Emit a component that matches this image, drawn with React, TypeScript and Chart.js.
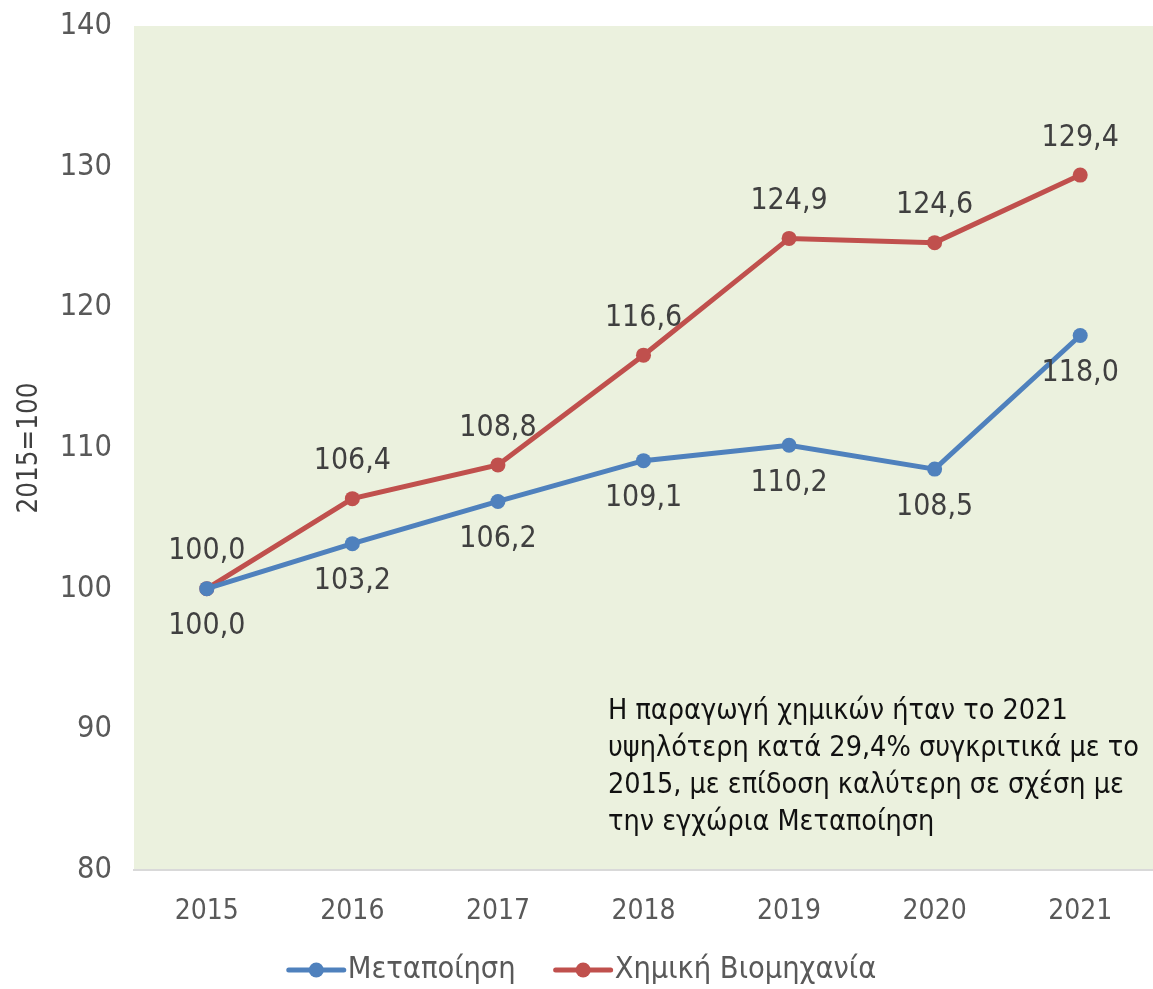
import React, { useEffect, useRef } from 'react';
import { Chart, registerables } from 'chart.js';

Chart.register(...registerables);

const categories = ['2015', '2016', '2017', '2018', '2019', '2020', '2021'];
const manufacturing = [100.0, 103.2, 106.2, 109.1, 110.2, 108.5, 118.0];
const chemicals = [100.0, 106.4, 108.8, 116.6, 124.9, 124.6, 129.4];
const seriesNames = ['Μεταποίηση', 'Χημική Βιομηχανία'];
const yAxisTitle = '2015=100';
const noteLines = [
  'Η παραγωγή χημικών ήταν το 2021',
  'υψηλότερη κατά 29,4% συγκριτικά με το',
  '2015, με επίδοση καλύτερη σε σχέση με',
  'την εγχώρια Μεταποίηση',
];

const FONT = '"DejaVu Sans Condensed", "DejaVu Sans", sans-serif';
const BLUE = '#4F81BD';
const RED = '#C0504D';

const fmt = (v: number) => v.toFixed(1).replace('.', ',');

const bgPlugin = {
  id: 'plotBg',
  beforeDraw(chart: any) {
    const { ctx, chartArea } = chart;
    ctx.save();
    ctx.fillStyle = '#EBF1DE';
    ctx.fillRect(chartArea.left, chartArea.top, chartArea.right - chartArea.left, chartArea.bottom - chartArea.top);
    ctx.restore();
  },
};

const labelPlugin = {
  id: 'valueLabels',
  afterDatasetsDraw(chart: any) {
    const { ctx } = chart;
    ctx.save();
    ctx.font = `30px ${FONT}`;
    ctx.fillStyle = '#404040';
    ctx.textAlign = 'center';
    ctx.textBaseline = 'middle';
    chart.data.datasets.forEach((ds: any, di: number) => {
      const meta = chart.getDatasetMeta(di);
      meta.data.forEach((pt: any, i: number) => {
        const off = di === 0 ? 38 : -37;
        ctx.fillText(fmt(ds.data[i]), pt.x, pt.y + off);
      });
    });
    ctx.restore();
  },
};

const notePlugin = {
  id: 'note',
  afterDraw(chart: any) {
    const { ctx, chartArea } = chart;
    ctx.save();
    ctx.font = `28.5px ${FONT}`;
    ctx.fillStyle = '#111111';
    ctx.textAlign = 'left';
    ctx.textBaseline = 'middle';
    const x = chartArea.left + 474;
    const y0 = chartArea.top + 686;
    noteLines.forEach((line, i) => ctx.fillText(line, x, y0 + i * 37));
    ctx.restore();
  },
};

const legendPlugin = {
  id: 'customLegend',
  afterDraw(chart: any) {
    const { ctx, width } = chart;
    ctx.save();
    ctx.font = `30.5px ${FONT}`;
    ctx.textBaseline = 'middle';
    ctx.textAlign = 'left';
    const lineLen = 55;
    const gap = 4;
    const spacing = 40;
    const items = chart.data.datasets.map((ds: any) => ({
      label: ds.label,
      color: ds.borderColor,
      w: ctx.measureText(ds.label).width,
    }));
    const total = items.reduce((s: number, it: any) => s + lineLen + gap + it.w, 0) + spacing * (items.length - 1);
    let x = (width - total) / 2 + 6;
    const y = 970;
    items.forEach((it: any) => {
      ctx.strokeStyle = it.color;
      ctx.lineWidth = 5;
      ctx.lineCap = 'round';
      ctx.beginPath();
      ctx.moveTo(x, y);
      ctx.lineTo(x + lineLen, y);
      ctx.stroke();
      ctx.fillStyle = it.color;
      ctx.beginPath();
      ctx.arc(x + lineLen / 2, y, 7.5, 0, Math.PI * 2);
      ctx.fill();
      ctx.fillStyle = '#595959';
      ctx.fillText(it.label, x + lineLen + gap, y);
      x += lineLen + gap + it.w + spacing;
    });
    ctx.restore();
  },
};

export default function App() {
  const ref = useRef<HTMLCanvasElement | null>(null);
  useEffect(() => {
    document.body.style.margin = '0';
    if (!ref.current) return;
    const chart = new Chart(ref.current, {
      type: 'line',
      data: {
        labels: categories,
        datasets: [
          {
            label: seriesNames[0],
            data: manufacturing,
            borderColor: BLUE,
            backgroundColor: BLUE,
            borderWidth: 5,
            pointRadius: 7.5,
            pointBorderWidth: 0,
            pointBackgroundColor: BLUE,
            tension: 0,
          },
          {
            label: seriesNames[1],
            data: chemicals,
            borderColor: RED,
            backgroundColor: RED,
            borderWidth: 5,
            pointRadius: 7.5,
            pointBorderWidth: 0,
            pointBackgroundColor: RED,
            tension: 0,
          },
        ],
      },
      options: {
        animation: false,
        responsive: true,
        maintainAspectRatio: false,
        layout: { autoPadding: false, padding: { top: 26, left: 0, right: 0, bottom: 0 } },
        plugins: {
          legend: { display: false },
          tooltip: { enabled: false },
        },
        scales: {
          x: {
            offset: true,
            grid: { display: false, drawTicks: false },
            border: { display: true, color: '#D9D9D9', width: 2 },
            ticks: { color: '#595959', font: { family: FONT, size: 28 }, padding: 25 },
            afterFit: (s: any) => { s.height = 119; s.paddingLeft = 0; s.paddingRight = 0; },
          },
          y: {
            min: 80,
            max: 140,
            grid: { display: false, drawTicks: false },
            border: { display: false },
            ticks: { stepSize: 10, color: '#595959', font: { family: FONT, size: 30.5 }, padding: 22 },
            title: {
              display: true,
              text: yAxisTitle,
              color: '#404040',
              font: { family: FONT, size: 27.5 },
              padding: { top: 13, bottom: 0 },
            },
            afterFit: (s: any) => { s.width = 134; s.paddingTop = 0; s.paddingBottom = 0; },
          },
        },
      },
      plugins: [bgPlugin, labelPlugin, notePlugin, legendPlugin],
    });
    return () => chart.destroy();
  }, []);
  return (
    <div style={{ width: '1153px', height: '989px', position: 'relative' }}>
      <canvas ref={ref} />
    </div>
  );
}
